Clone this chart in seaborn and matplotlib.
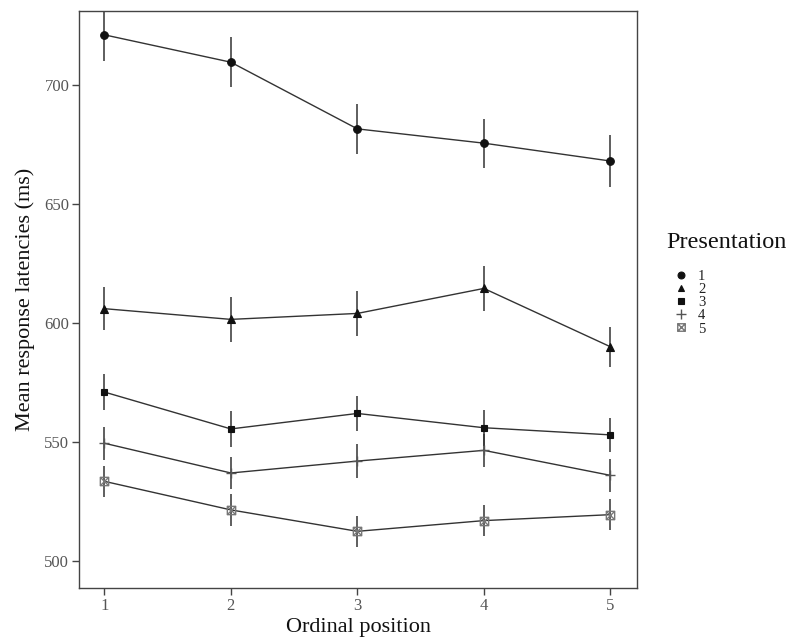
import numpy as np
import pandas as pd
import matplotlib
matplotlib.use("Agg")
import matplotlib.pyplot as plt
from matplotlib.path import Path
from matplotlib.lines import Line2D
import seaborn as sns

# ---- data ----
positions = [1, 2, 3, 4, 5]
presentations = ["1", "2", "3", "4", "5"]
rt_p1 = [721, 709.5, 681.5, 675.5, 668]
rt_p2 = [606, 601.5, 604, 614.5, 590]
rt_p3 = [571, 555.5, 562, 556, 553]
rt_p4 = [549.5, 537, 542, 546.5, 536]
rt_p5 = [533.5, 521.5, 512.5, 517, 519.5]
err_p1 = [11, 10.5, 10.5, 10.3, 11]
err_p2 = [9, 9.5, 9.5, 9.5, 8.5]
err_p3 = [7.7, 7.5, 7.5, 7.6, 7.0]
err_p4 = [7, 6.8, 7, 7, 6.8]
err_p5 = [6.4, 6.7, 6.4, 6.4, 6.4]

rts = [rt_p1, rt_p2, rt_p3, rt_p4, rt_p5]
errs = [err_p1, err_p2, err_p3, err_p4, err_p5]

rows = []
for p, r, e in zip(presentations, rts, errs):
    for x, y, s in zip(positions, r, e):
        rows.append({"Ordinal position": x, "rt": y, "se": s, "Presentation": p})
df = pd.DataFrame(rows)

sns.set_theme(style="white")
plt.rcParams["font.family"] = ["Liberation Serif", "DejaVu Serif"]

square_cross = Path(
    [(-1, -1), (1, -1), (1, 1), (-1, 1), (-1, -1), (-1, -1), (1, 1), (-1, 1), (1, -1)],
    [Path.MOVETO, Path.LINETO, Path.LINETO, Path.LINETO, Path.CLOSEPOLY,
     Path.MOVETO, Path.LINETO, Path.MOVETO, Path.LINETO],
)

styles = {
    "1": dict(marker="o", ms=5.5, mfc="#111111", mec="#111111", mew=0.8),
    "2": dict(marker="^", ms=5.5, mfc="#111111", mec="#111111", mew=0.8),
    "3": dict(marker="s", ms=5.0, mfc="#111111", mec="#111111", mew=0.8),
    "4": dict(marker="+", ms=7.5, mfc="#555555", mec="#555555", mew=1.0),
    "5": dict(marker=square_cross, ms=6.0, mfc="none", mec="#777777", mew=1.0),
}

fig = plt.figure(figsize=(7.95, 6.41), dpi=100)
fig.patch.set_facecolor("white")
ax = fig.add_axes([79 / 795, 53 / 641, (637 - 79) / 795, (588 - 11) / 641])
ax.set_facecolor("white")

line_col = "#333333"
for p in presentations:
    sub = df[df["Presentation"] == p]
    ax.errorbar(sub["Ordinal position"], sub["rt"], yerr=sub["se"], fmt="none",
                ecolor=line_col, elinewidth=1.1, capsize=0, zorder=2)
    sns.lineplot(data=sub, x="Ordinal position", y="rt", color=line_col,
                 linewidth=1.0, ax=ax, legend=False, zorder=3)
    st = styles[p]
    ax.plot(sub["Ordinal position"], sub["rt"], linestyle="none", marker=st["marker"],
            markersize=st["ms"], markerfacecolor=st["mfc"], markeredgecolor=st["mec"],
            markeredgewidth=st["mew"], zorder=4)

ax.set_xlim(0.8, 5.21)
ax.set_ylim(488.7, 731)
ax.set_xticks(positions)
ax.set_yticks([500, 550, 600, 650, 700])
ax.set_xlabel("Ordinal position", fontsize=16, color="#111111", labelpad=3)
ax.set_ylabel("Mean response latencies (ms)", fontsize=16, color="#111111", labelpad=7)
ax.tick_params(axis="both", which="major", direction="out", length=5, width=1.0,
               color="#444444", labelsize=12, labelcolor="#555555", pad=2,
               bottom=True, left=True)
for sp in ax.spines.values():
    sp.set_color("#444444")
    sp.set_linewidth(1.0)

fig.text(666 / 795, 1 - 243 / 641, "Presentation", fontsize=17.5, color="#111111",
         ha="left", va="center")

handles = []
for p in presentations:
    st = styles[p]
    handles.append(Line2D([], [], linestyle="none", marker=st["marker"],
                          markersize=st["ms"] * 0.9, markerfacecolor=st["mfc"],
                          markeredgecolor=st["mec"], markeredgewidth=st["mew"]))
leg = fig.legend(handles, presentations, loc="upper left",
                 bbox_to_anchor=(666 / 795, 1 - 269.5 / 641), frameon=False,
                 fontsize=10.5, handlelength=2.0,
                 handletextpad=0.2, labelspacing=0.0, borderpad=0.0,
                 borderaxespad=0.0)
for t in leg.get_texts():
    t.set_color("#222222")

fig.savefig("out.png", dpi=100, facecolor="white")
